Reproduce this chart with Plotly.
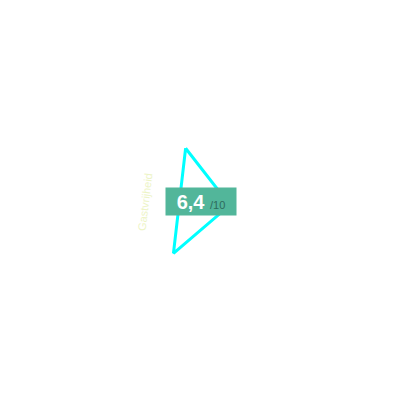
import plotly.graph_objects as go

# radar categories and scores (0-10)
categories = ["Eten", "Sfeer", "Service"]
scores = [8.1, 8.4, 2.7]
score_label = "6,4"
score_max = "/10"
axis_label = "Gastvrijheid"

theta = categories + categories[:1]
r = scores + scores[:1]

fig = go.Figure()
fig.add_trace(go.Scatterpolar(
    r=r, theta=theta, mode="lines",
    line=dict(color="#00FFFF", width=3),
    hoverinfo="skip", showlegend=False,
))

fig.update_layout(
    width=400, height=400,
    margin=dict(l=0, r=0, t=0, b=0),
    paper_bgcolor="white",
    polar=dict(
        domain=dict(x=[0.32, 0.69], y=[0.3275, 0.6975]),
        bgcolor="rgba(0,0,0,0)",
        radialaxis=dict(range=[0, 10], visible=False),
        angularaxis=dict(rotation=114, direction="counterclockwise",
                         showline=False, showgrid=False, ticks="",
                         showticklabels=False),
    ),
)

# faint axis label on the left
fig.add_annotation(
    x=137 / 400, y=1 - 194 / 400, xref="paper", yref="paper",
    text=axis_label, textangle=-83, showarrow=False,
    font=dict(family="Liberation Sans", size=11, color="#EDF4C6"),
)

# score badge
fig.add_annotation(
    x=193 / 400, y=1 - 193.5 / 400, xref="paper", yref="paper",
    text="<b>" + score_label + "</b> <span style='font-size:11px;color:#2E6B5C'>" + score_max + "</span>",
    showarrow=False, width=70, height=27, borderpad=0,
    bgcolor="#52B69A",
    font=dict(family="Liberation Sans", size=20, color="white"),
)

fig.write_html("out.html")
